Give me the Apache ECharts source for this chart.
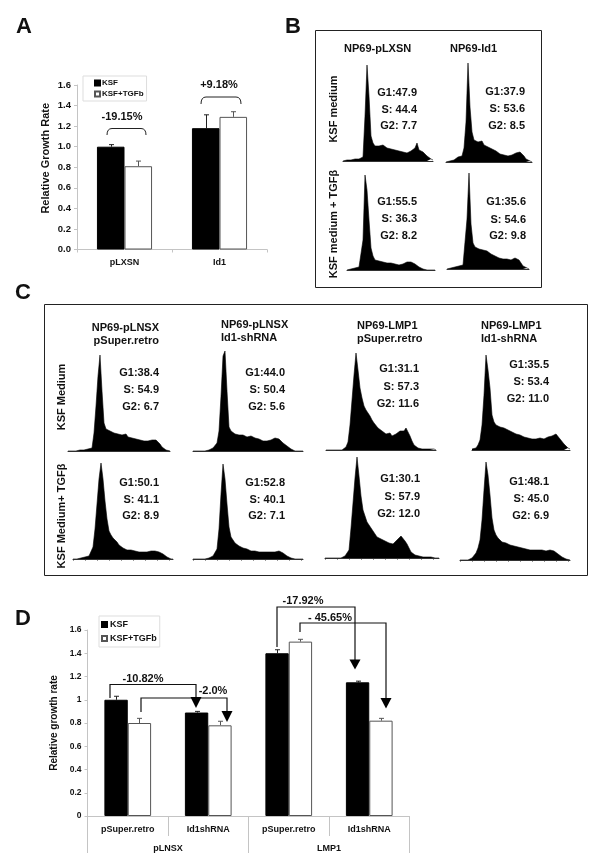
<!DOCTYPE html>
<html><head><meta charset="utf-8">
<style>html,body{margin:0;padding:0;background:#fff}#c{width:600px;height:868px}</style>
<script src="https://cdn.jsdelivr.net/npm/echarts@6/dist/echarts.min.js"></script>
</head><body><div id="c"></div>
<script>
// ---- Panel A values
const catsA = ['pLXSN', 'Id1'];
const ksfA = [1.0, 1.18];
const tgfA = [0.81, 1.29];
const ksfTopA = [1.02, 1.31];
const tgfTopA = [0.86, 1.34];
// ---- Panel D values
const catsD = ['pSuper.retro', 'Id1shRNA', 'pSuper.retro', 'Id1shRNA'];
const groupsD = ['pLNSX', 'LMP1'];
const ksfD = [1.0, 0.89, 1.4, 1.15];
const tgfD = [0.8, 0.78, 1.5, 0.82];
const ksfTopD = [1.03, 0.9, 1.43, 1.16];
const tgfTopD = [0.84, 0.815, 1.52, 0.84];
// ---- Cell-cycle histograms
const histB1 = [0,0,1,1,1,2,2,1,2,3,4,45,96,65,25,18,15,16,15,14,16,14,13,15,12,13,11,12,10,11,9,10,8,9,10,11,13,18,11,12,9,7,5,3,2,1];
const histB2 = [0,0,1,1,2,3,5,3,6,14,40,99,55,30,22,20,20,19,21,17,18,15,16,13,13,11,10,8,8,7,6,6,6,7,8,9,10,10,8,6,3,1,1,0];
const histB3 = [0,1,1,2,2,2,3,4,30,95,80,50,22,14,10,10,9,9,8,7,7,6,7,6,6,6,5,6,6,7,8,9,8,8,6,4,3,1,1,0,0,0,0,0,0];
const histB4 = [0,0,1,1,2,2,3,3,4,5,50,96,45,26,22,21,20,20,19,19,18,16,15,14,13,12,11,10,10,9,10,9,9,10,11,10,9,6,3,2,1,0];
const histC1 = [0,0,0,0,0,0,1,1,1,2,2,2,3,18,45,75,96,60,28,22,20,20,19,18,18,17,16,16,15,17,14,15,13,13,12,14,11,11,10,10,10,11,11,11,11,10,7,4,2,1,0,0];
const histC2 = [0,0,0,0,0,0,0,1,1,2,3,4,8,20,55,95,100,60,24,20,18,17,16,16,15,16,15,14,14,15,13,13,12,12,11,10,10,10,11,11,11,13,13,12,10,8,7,5,3,2,1,0,0,0,0,0];
const histC3 = [0,0,0,0,0,0,0,0,0,1,3,8,25,50,75,97,80,62,52,44,40,37,34,30,27,25,22,20,19,17,16,15,17,14,14,16,18,19,20,19,22,18,14,9,5,3,2,2,1,1,1,1,1,1,1,0];
const histC4 = [1,1,2,5,10,25,55,95,80,62,35,28,25,24,23,23,22,21,20,19,18,17,16,15,15,14,13,13,12,12,11,11,11,11,12,11,11,12,13,13,14,15,16,14,11,9,6,4,2,1];
const histC5 = [0,0,0,0,1,1,2,2,3,4,12,30,55,80,96,80,58,40,28,24,21,20,17,14,12,11,10,9,9,9,8,8,8,7,7,7,7,7,7,8,8,8,8,7,6,5,3,2,1,0,0];
const histC6 = [0,0,0,0,0,0,0,1,1,2,3,4,10,30,65,95,80,55,32,22,19,16,15,13,12,11,11,10,9,8,8,8,7,7,6,7,7,7,7,7,7,7,7,8,7,6,5,3,2,1,1,0,0,0,0,0];
const histC7 = [0,0,0,0,0,0,0,0,0,1,2,4,8,30,55,80,101,82,62,48,42,36,34,30,27,24,21,20,19,18,17,16,15,15,14,15,18,20,22,20,17,14,10,6,4,3,2,2,1,1,1,1,1,1,1,0,0,0];
const histC8 = [0,0,0,0,0,1,2,4,7,12,20,40,70,98,85,65,42,30,25,22,20,18,17,17,15,15,14,14,13,13,12,12,12,11,11,10,11,10,10,10,10,10,9,9,10,10,9,9,8,6,4,3,2,1,1,0];
// ---- Labels
const statsB = [['G1:47.9','S: 44.4','G2: 7.7'],['G1:37.9','S: 53.6','G2: 8.5'],['G1:55.5','S: 36.3','G2: 8.2'],['G1:35.6','S: 54.6','G2: 9.8']];
const statsC = [['G1:38.4','S: 54.9','G2: 6.7'],['G1:44.0','S: 50.4','G2: 5.6'],['G1:31.1','S: 57.3','G2: 11.6'],['G1:35.5','S: 53.4','G2: 11.0'],
                ['G1:50.1','S: 41.1','G2: 8.9'],['G1:52.8','S: 40.1','G2: 7.1'],['G1:30.1','S: 57.9','G2: 12.0'],['G1:48.1','S: 45.0','G2: 6.9']];

const FF = '"Liberation Sans", Arial, sans-serif';
const INK = '#111';
const GREY = '#c4c4c4';

// histogram layout: left px, baseline px, peak-top px, with ticks
const histLayout = [
  [histB1,343,161,65,0],[histB2,446,162,63,0],[histB3,347,270,175,0],[histB4,447,269,173,0],
  [histC1,68,451,355,0],[histC2,193,451,351,0],[histC3,326,450,353,0],[histC4,472,450,355,0],
  [histC5,73,559,463,1],[histC6,193,559,464,1],[histC7,325,558,457,1],[histC8,460,560,462,1]
];
const STEP = 2;

const grids = [], xAxes = [], yAxes = [], series = [];

function errorSeries(name, tops, lows, xi, yi, side, gapFrac, color) {
  return {
    type: 'custom', name: name + ' error', xAxisIndex: xi, yAxisIndex: yi, silent: true, z: 1,
    data: tops.map((t, i) => [i, lows[i], t]),
    encode: { x: 0, y: [1, 2] },
    renderItem(params, api) {
      const bw = api.size([1, 0])[0] * (1 - gapFrac) / 2;
      const c0 = api.coord([api.value(0), api.value(1)]);
      const c1 = api.coord([api.value(0), api.value(2)]);
      const x = Math.round(c0[0] + side * bw / 2) + 0.5;
      const st = { stroke: color, lineWidth: 1, fill: 'none' };
      return { type: 'group', children: [
        { type: 'line', shape: { x1: x, y1: c0[1], x2: x, y2: c1[1] }, style: st },
        { type: 'line', shape: { x1: x - 2.5, y1: c1[1], x2: x + 2.5, y2: c1[1] }, style: st }
      ]};
    }
  };
}
function barPair(ksf, tgf, xi, yi, gap) {
  const g = (gap * 100) + '%';
  series.push({ name: 'KSF', type: 'bar', xAxisIndex: xi, yAxisIndex: yi, data: ksf, barGap: 0, barCategoryGap: g,
    itemStyle: { color: '#000', borderColor: '#000', borderWidth: 1 }, z: 2 });
  series.push({ name: 'KSF+TGFb', type: 'bar', xAxisIndex: xi, yAxisIndex: yi, data: tgf, barGap: 0, barCategoryGap: g,
    itemStyle: { color: '#fff', borderColor: '#555', borderWidth: 1 }, z: 2 });
}
function lab(size) { return { fontFamily: FF, fontWeight: 'bold', fontSize: size, color: INK }; }

// Panel A  (axes 0)
grids.push({ left: 77, top: 85, width: 190, height: 164.5 });
xAxes.push({ gridIndex: 0, type: 'category', data: catsA,
  axisLine: { lineStyle: { color: GREY } }, axisTick: { show: true, length: 3, lineStyle: { color: GREY } },
  axisLabel: Object.assign(lab(9), { margin: 9 }) });
yAxes.push({ gridIndex: 0, type: 'value', min: 0, max: 1.6, interval: 0.2,
  axisLine: { show: true, lineStyle: { color: GREY } }, axisTick: { show: true, length: 3, lineStyle: { color: GREY } },
  splitLine: { show: false },
  axisLabel: Object.assign(lab(9.5), { margin: 6, formatter: v => v.toFixed(1) }),
  name: 'Relative Growth Rate', nameLocation: 'middle', nameGap: 26, nameRotate: 90,
  nameTextStyle: Object.assign(lab(11), { padding: [0, 0, 0, 18] }) });
barPair(ksfA, tgfA, 0, 0, 0.42);
series.push(errorSeries('KSF', ksfTopA, ksfA, 0, 0, -1, 0.42, '#222'));
series.push(errorSeries('KSF+TGFb', tgfTopA, tgfA, 0, 0, 1, 0.42, '#555'));

// Panel D  (axes 1, plus group axis 2)
grids.push({ left: 87.5, top: 630, width: 322, height: 186 });
xAxes.push({ gridIndex: 1, type: 'category', data: catsD,
  axisLine: { lineStyle: { color: GREY } }, axisTick: { show: true, length: 20, lineStyle: { color: GREY } },
  axisLabel: Object.assign(lab(9), { margin: 9 }) });
yAxes.push({ gridIndex: 1, type: 'value', min: 0, max: 1.6, interval: 0.2,
  axisLine: { show: true, lineStyle: { color: GREY } }, axisTick: { show: true, length: 3, lineStyle: { color: GREY } },
  splitLine: { show: false },
  axisLabel: Object.assign(lab(8.5), { margin: 6 }),
  name: 'Relative growth rate', nameLocation: 'middle', nameGap: 23, nameRotate: 90,
  nameTextStyle: lab(10) });
xAxes.push({ gridIndex: 1, type: 'category', data: groupsD, position: 'bottom',
  axisLine: { show: false }, axisTick: { show: true, length: 37, lineStyle: { color: GREY } },
  axisLabel: Object.assign(lab(9), { margin: 28 }) });
barPair(ksfD, tgfD, 1, 1, 0.42);
series.push(errorSeries('KSF', ksfTopD, ksfD, 1, 1, -1, 0.42, '#222'));
series.push(errorSeries('KSF+TGFb', tgfTopD, tgfD, 1, 1, 1, 0.42, '#555'));

// Histograms
histLayout.forEach(([data, left, base, top, ticked]) => {
  const gi = grids.length;
  grids.push({ left, top, width: (data.length - 1) * STEP, height: base - top });
  const xi = xAxes.length, yi = yAxes.length;
  xAxes.push({ gridIndex: gi, type: 'category', boundaryGap: false, data: data.map((_, i) => i),
    axisLine: { lineStyle: { color: '#333', width: 1 } },
    axisTick: { show: !!ticked, interval: 5, length: 1.5, lineStyle: { color: '#333' } },
    axisLabel: { show: false } });
  yAxes.push({ gridIndex: gi, type: 'value', min: 0, max: base - top, show: false, splitLine: { show: false } });
  series.push({ type: 'line', xAxisIndex: xi, yAxisIndex: yi, data, symbol: 'none', silent: true,
    lineStyle: { color: '#000', width: 0.6 }, areaStyle: { color: '#000', opacity: 1 } });
});

// Text and annotation helpers
const gfx = [];
function T(text, x, y, size, align, rot, w) {
  gfx.push({ type: 'text', x, y, rotation: rot ? Math.PI / 2 : 0,
    style: { text, fill: INK, font: (w || 'bold') + ' ' + size + 'px ' + FF, textAlign: align || 'left', textVerticalAlign: 'middle' }, z: 20 });
}
function P(points, color, width) {
  gfx.push({ type: 'polyline', shape: { points }, style: { stroke: color || '#111', lineWidth: width || 1.2, fill: 'none' }, z: 15 });
}
function Tri(cx, y0, y1, hw) {
  gfx.push({ type: 'polygon', shape: { points: [[cx - hw, y0], [cx + hw, y0], [cx, y1]] }, style: { fill: '#000' }, z: 16 });
}
function Brace(x0, x1, yBot, yTop) {
  const st = { stroke: '#222', lineWidth: 1, fill: 'none' };
  gfx.push({ type: 'bezierCurve', shape: { x1: x0, y1: yBot, x2: x0 + 5, y2: yTop, cpx1: x0, cpy1: yTop }, style: st, z: 15 });
  gfx.push({ type: 'line', shape: { x1: x0 + 5, y1: yTop, x2: x1 - 5, y2: yTop }, style: st, z: 15 });
  gfx.push({ type: 'bezierCurve', shape: { x1: x1 - 5, y1: yTop, x2: x1, y2: yBot, cpx1: x1, cpy1: yTop }, style: st, z: 15 });
}
function Box(x, y, w, h) {
  gfx.push({ type: 'rect', shape: { x, y, width: w, height: h }, style: { stroke: '#222', lineWidth: 1, fill: 'none' }, z: 1 });
}
// panel letters
T('A', 16, 27, 22); T('B', 285, 27, 22); T('C', 15, 293, 22); T('D', 15, 619, 22);
// frames
Box(315.5, 30.5, 226, 257); Box(44.5, 304.5, 543, 271);
// panel A notes
T('-19.15%', 122, 117, 11, 'center'); T('+9.18%', 219, 85, 11, 'center');
Brace(107, 146, 135, 128.5); Brace(201, 241, 104, 97);
// panel B text
T('NP69-pLXSN', 344, 49, 11); T('NP69-Id1', 450, 49, 11);
T('KSF medium', 334, 109, 11, 'center', true); T('KSF medium + TGFβ', 334, 224, 11, 'center', true);
const posB = [[417,[93,110,126]],[525,[92,109,126]],[417,[202,219,236]],[526,[202,220,236]]];
statsB.forEach((s, i) => s.forEach((t, j) => T(t, posB[i][0], posB[i][1][j], 11, 'right')));
// panel C text
T('NP69-pLNSX', 159, 328, 11, 'right'); T('pSuper.retro', 159, 341, 11, 'right');
T('NP69-pLNSX', 221, 325, 11); T('Id1-shRNA', 221, 338, 11);
T('NP69-LMP1', 357, 326, 11); T('pSuper.retro', 357, 339, 11);
T('NP69-LMP1', 481, 326, 11); T('Id1-shRNA', 481, 339, 11);
T('KSF Medium', 62, 397, 11, 'center', true); T('KSF Medium+ TGFβ', 62, 516, 11, 'center', true);
const posC = [[159,[373,390,407]],[285,[373,390,407]],[419,[369,387,404]],[549,[365,382,399]],
              [159,[483,500,516]],[285,[483,500,516]],[420,[479,497,514]],[549,[482,499,516]]];
statsC.forEach((s, i) => s.forEach((t, j) => T(t, posC[i][0], posC[i][1][j], 11, 'right')));
// panel D notes
T('-10.82%', 143, 679, 11, 'center'); T('-2.0%', 213, 691, 11, 'center');
T('-17.92%', 303, 601, 11, 'center'); T('- 45.65%', 330, 618, 11, 'center');
P([[110,698],[110,684.5],[196,684.5],[196,697]]); Tri(196,697,708,5.5);
P([[141,712],[141,698],[227,698],[227,712]]); Tri(227,711,722,5.5);
P([[277,647],[277,607],[355,607],[355,660]]); Tri(355,659.5,669.5,5.5);
P([[300,632],[300,623],[386,623],[386,698]]); Tri(386,698,708.5,5.5);

const legendCommon = { orient: 'vertical', icon: 'rect', itemWidth: 5, itemHeight: 5, borderWidth: 1, borderColor: '#ddd', data: ['KSF', 'KSF+TGFb'], selectedMode: false };
const option = {
  animation: false, backgroundColor: '#fff', tooltip: { show: false },
  legend: [
    Object.assign({}, legendCommon, { left: 83, top: 76, padding: [3, 3, 3, 11], itemGap: 3, textStyle: Object.assign(lab(8), { padding: [0, 0, 0, -3] }) }),
    Object.assign({}, legendCommon, { left: 99, top: 616, padding: [4, 3, 4, 2], itemGap: 5, textStyle: Object.assign(lab(9), { padding: [0, 0, 0, -2] }) })
  ],
  grid: grids, xAxis: xAxes, yAxis: yAxes, series, graphic: gfx
};
echarts.init(document.getElementById('c'), null, { renderer: 'canvas' }).setOption(option);
</script></body></html>
